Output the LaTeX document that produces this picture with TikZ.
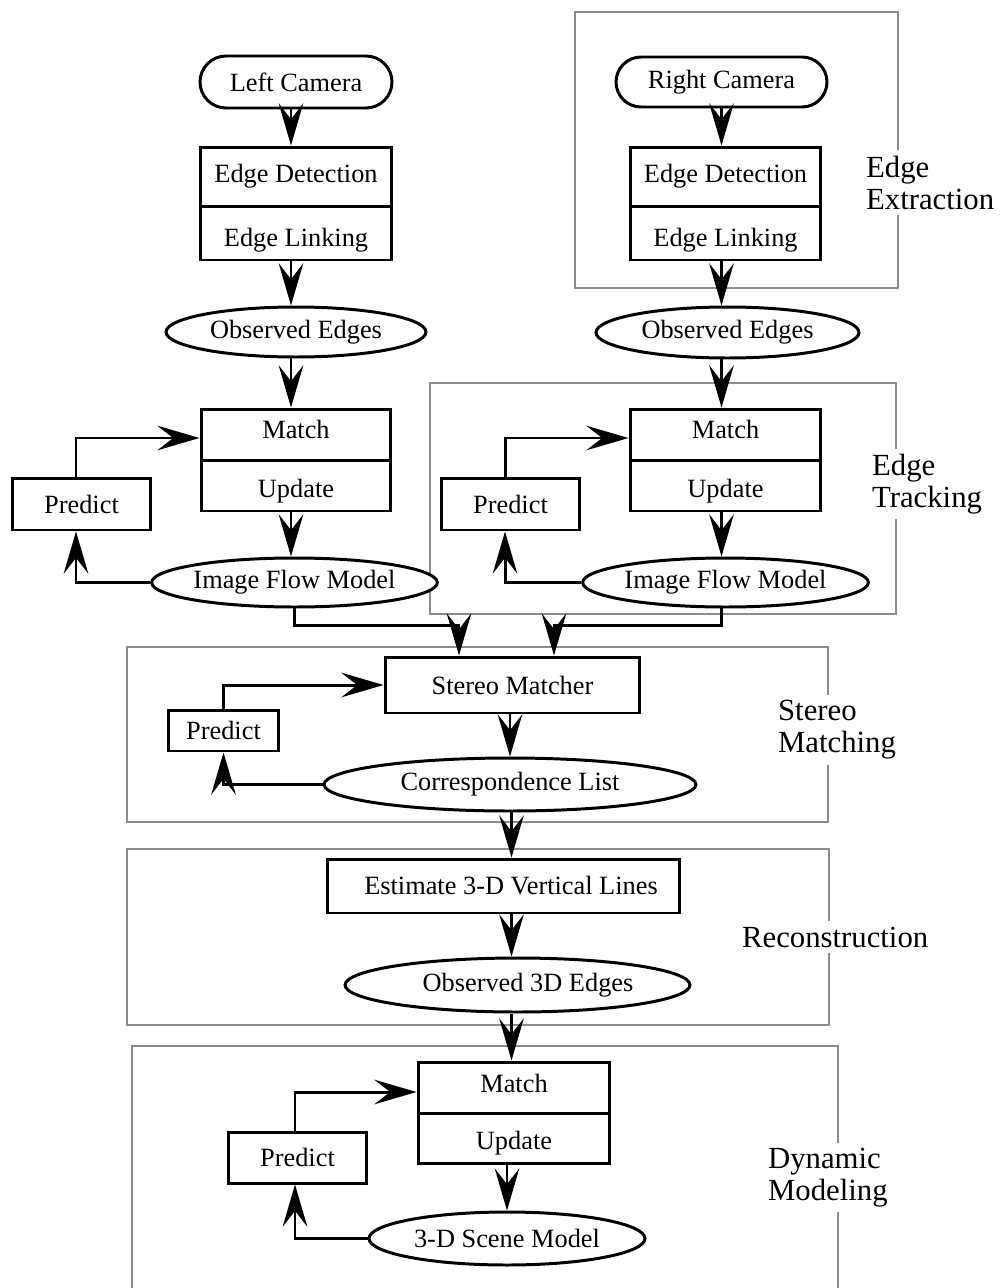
\documentclass[tikz,border=0pt]{standalone}
\usepackage{fontspec}
\setmainfont{Liberation Serif}
\usetikzlibrary{arrows.meta,shapes.geometric,shapes.misc}
\definecolor{framegray}{RGB}{140,140,140}
\begin{document}
\begin{tikzpicture}[x=0.02cm,y=-0.02cm,
  every node/.style={font=\fontsize{15}{18}\selectfont, inner sep=0pt},
  lw/.style={line width=1.7pt},
  proc/.style={draw, lw, rectangle, fill=white},
  term/.style={draw, lw, rounded rectangle, fill=white},
  data/.style={draw, lw, ellipse, fill=white},
  frame/.style={draw=framegray, line width=1.4pt},
  stage/.style={fill=white, align=left, anchor=west, inner xsep=1pt, inner ysep=3pt,
                font=\fontsize{17.5}{18.2}\selectfont},
  flow/.style={lw, -{Stealth[length=24pt,width=14pt,inset=9pt]}},
]
\useasboundingbox (0,0) rectangle (1000,1288);

% ---------- stage frames ----------
\draw[frame] (575,12) rectangle (898,288);
\draw[frame] (430,383) rectangle (896,614);
\draw[frame] (127,647) rectangle (828,822);
\draw[frame] (127,849) rectangle (829,1025);
\draw[frame] (132,1290) -- (132,1046) -- (838,1046) -- (838,1290);

\node[stage] (lab-ext) at (864,182.5) {Edge\\Extraction};
\node[stage] (lab-trk) at (870,484) {Edge\\Tracking};
\node[stage] (lab-st)  at (776,730) {Stereo\\Matching};
\node[stage] (lab-rec) at (740,937) {Reconstruction};
\node[stage] (lab-dyn) at (766,1177.5) {Dynamic\\Modeling};

% ---------- left camera chain ----------
\coordinate (lx) at (291,0);
\node[term, minimum width=3.84cm, minimum height=1.04cm] (lcam) at (296,82) {Left Camera};
\node[proc, minimum width=3.84cm, minimum height=1.18cm] (ledet) at (296,176.5) {};
\node[proc, minimum width=3.84cm, minimum height=1.08cm] (lelink) at (296,233) {};
\node (ledet-t) at (296,176) {Edge Detection};
\node (lelink-t) at (296,240) {Edge Linking};
\node[data, minimum width=5.2cm, minimum height=1.0cm] (lobs) at (296,332) {Observed Edges};
\node[proc, minimum width=3.8cm, minimum height=1.02cm] (lmatch) at (296,434.5) {};
\node[proc, minimum width=3.8cm, minimum height=1.02cm] (lupd) at (296,485.5) {};
\node (lmatch-t) at (296,429) {Match};
\node (lupd-t) at (296,491) {Update};
\node[proc, minimum width=2.78cm, minimum height=1.04cm] (lpred) at (81.5,504) {Predict};
\node[data, minimum width=5.26cm, minimum height=0.98cm] (lflow) at (294.5,582.5) {Image Flow Model};

\draw[flow] (lcam.south -| lx) -- (ledet.north -| lx);
\draw[flow] (lelink.south -| lx) -- (lobs.north -| lx);
\draw[flow] (lobs.south -| lx) -- (lmatch.north -| lx);
\draw[flow] (lupd.south -| lx) -- (lflow.north -| lx);
\draw[flow] ([xshift=-0.11cm]lpred.north) |- ([yshift=-0.07cm]lmatch.west);
\draw[flow] (lflow.west) -| ([xshift=-0.11cm]lpred.south);

% ---------- right camera chain ----------
\node[term, minimum width=4.22cm, minimum height=1.0cm] (rcam) at (721.5,82) {Right Camera};
\node[proc, minimum width=3.82cm, minimum height=1.18cm] (redet) at (725.5,176.5) {};
\node[proc, minimum width=3.82cm, minimum height=1.08cm] (relink) at (725.5,233) {};
\node (redet-t) at (725.5,176) {Edge Detection};
\node (relink-t) at (725.5,240) {Edge Linking};
\node[data, minimum width=5.26cm, minimum height=1.02cm] (robs) at (727.5,332.5) {Observed Edges};
\node[proc, minimum width=3.82cm, minimum height=1.02cm] (rmatch) at (725.5,434.5) {};
\node[proc, minimum width=3.82cm, minimum height=1.02cm] (rupd) at (725.5,485.5) {};
\node (rmatch-t) at (725.5,429) {Match};
\node (rupd-t) at (725.5,491) {Update};
\node[proc, minimum width=2.78cm, minimum height=1.04cm] (rpred) at (510.5,504) {Predict};
\node[data, minimum width=5.26cm, minimum height=0.98cm] (rflow) at (725.5,582.5) {Image Flow Model};

\draw[flow] (rcam.south) -- (redet.north -| rcam.south);
\draw[flow] (relink.south -| rcam.south) -- (robs.north -| rcam.south);
\draw[flow] (robs.south -| rcam.south) -- (rmatch.north -| rcam.south);
\draw[flow] (rupd.south -| rcam.south) -- (rflow.north -| rcam.south);
\draw[flow] ([xshift=-0.11cm]rpred.north) |- ([yshift=-0.07cm]rmatch.west);
\draw[flow] (rflow.west) -| ([xshift=-0.11cm]rpred.south);

% ---------- stereo matching ----------
\node[proc, minimum width=5.1cm, minimum height=1.12cm] (smatch) at (512.5,685) {Stereo Matcher};
\node[proc, minimum width=2.22cm, minimum height=0.82cm] (spred) at (223.5,730.5) {Predict};
\node[data, minimum width=7.44cm, minimum height=1.06cm] (corr) at (510,784.5) {Correspondence List};

\coordinate (jl) at (459,625);
\coordinate (jr) at (554,625);
\draw[flow] (lflow.south) |- (jl) -- (jl |- smatch.north);
\draw[flow] (rflow.south -| rcam.south) |- (jr) -- (jr |- smatch.north);
\draw[flow] (spred.north) |- (smatch.west);
\draw[flow] (corr.west) -| (spred.south);
\draw[flow] (smatch.south -| corr.south) -- (corr.north);

% ---------- reconstruction ----------
\coordinate (cx) at (511.5,0);
\node[proc, minimum width=7.06cm, minimum height=1.08cm] (est) at (503.5,886) {};
\node (est-t) at (511,886) {Estimate 3-D Vertical Lines};
\node[data, minimum width=6.9cm, minimum height=1.08cm] (obs3d) at (517.5,985) {};
\node (obs3d-t) at (528,985) {Observed 3D Edges};

\draw[flow] (corr.south -| cx) -- (est.north -| cx);
\draw[flow] (est.south -| cx) -- (obs3d.north -| cx);

% ---------- dynamic modeling ----------
\node[proc, minimum width=3.84cm, minimum height=1.02cm] (dmatch) at (514,1087.5) {};
\node[proc, minimum width=3.84cm, minimum height=1.0cm] (dupd) at (514,1138) {};
\node (dmatch-t) at (514,1083) {Match};
\node (dupd-t) at (514,1143) {Update};
\node[proc, minimum width=2.78cm, minimum height=1.02cm] (dpred) at (297.5,1157.5) {Predict};
\node[data, minimum width=5.52cm, minimum height=1.06cm] (scene) at (507,1238.5) {3-D Scene Model};

\draw[flow] (obs3d.south -| cx) -- (dmatch.north -| cx);
\draw[flow] (dupd.south -| scene.north) -- (scene.north);
\draw[flow] ([xshift=-0.05cm]dpred.north) |- ([yshift=-0.09cm]dmatch.west);
\draw[flow] (scene.west) -| ([xshift=-0.05cm]dpred.south);
\end{tikzpicture}
\end{document}
